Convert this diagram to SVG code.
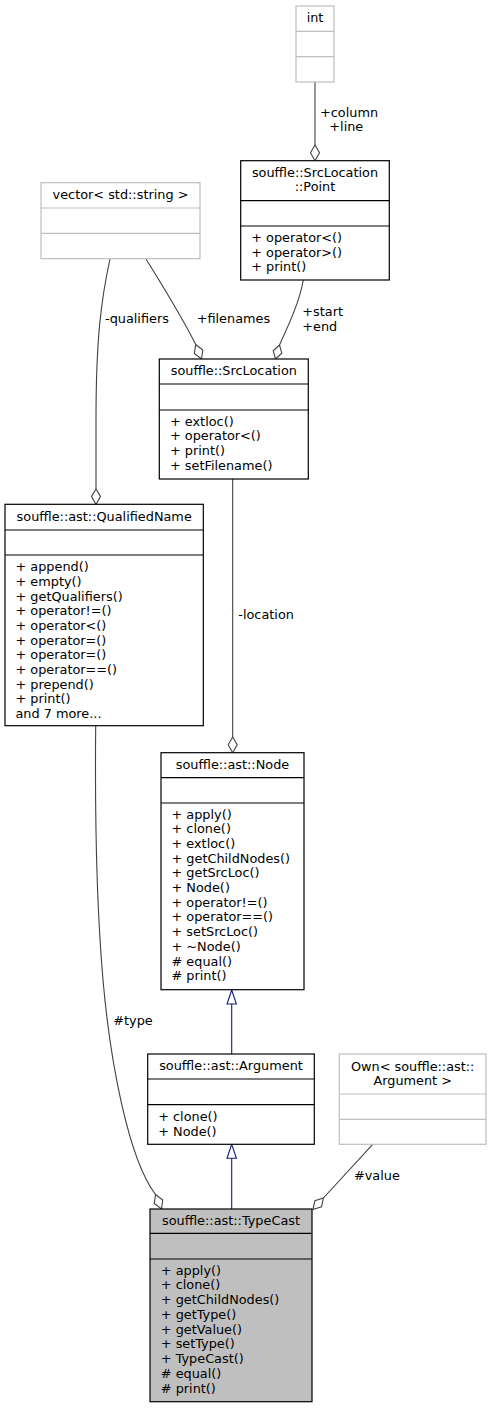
<svg xmlns="http://www.w3.org/2000/svg" width="491" height="1408" viewBox="0 0 491 1408">
<style>
text{font-family:"DejaVu Sans","Liberation Sans",sans-serif;font-size:12.85px;fill:#000}
.c{text-anchor:middle}
.box{fill:#fff;stroke:#000;stroke-width:1.2}
.gbox{fill:#fff;stroke:#bfbfbf;stroke-width:1.2}
.cur{fill:#bfbfbf;stroke:#000;stroke-width:1.2}
.e{fill:none;stroke:#404040;stroke-width:1.1}
.dia{fill:#fff;stroke:#404040;stroke-width:1.1}
.inh{fill:none;stroke:#191970;stroke-width:1.1}
.tri{fill:#fff;stroke:#191970;stroke-width:1.1}
</style>
<rect width="491" height="1408" fill="#fff"/>
<g id="connectors">
  <path class="e" d="M315,82 L315,145"/>
  <polygon class="dia" points="315,145 319.5,152.8 315,160.7 310.5,152.8"/>
  <text x="320" y="117">+column</text>
  <text x="329.3" y="131">+line</text>

  <path class="e" d="M110,259 C101,300 96,340 96,420 L96,489"/>
  <polygon class="dia" points="96,489 100.5,496.6 96,504.3 91.5,496.6"/>
  <text x="105" y="322.8">-qualifiers</text>

  <path class="e" d="M146,259 C162,285 181,315 195.7,344.5"/>
  <polygon class="dia" points="195.7,344.5 202.8,350.1 201.5,359 194.4,353.4"/>
  <text x="196.7" y="322.8">+filenames</text>

  <path class="e" d="M303.3,280 C300,300 290,322 279.5,345"/>
  <polygon class="dia" points="279.5,345 281.8,353.2 275.5,359 273.2,350.8"/>
  <text x="302.3" y="315.5">+start</text>
  <text x="302.3" y="331">+end</text>

  <path class="e" d="M232.7,479 L232.7,737"/>
  <polygon class="dia" points="232.7,737 237.2,744.8 232.7,752.7 228.2,744.8"/>
  <text x="238.3" y="618.8">-location</text>

  <path class="inh" d="M231.7,1054 L231.7,1004"/>
  <polygon class="tri" points="231.7,990 236.4,1004 227,1004"/>

  <path class="inh" d="M231.7,1209 L231.7,1158.3"/>
  <polygon class="tri" points="231.7,1144.3 236.4,1158.3 227,1158.3"/>

  <path class="e" d="M372.7,1144.3 L323.4,1198"/>
  <polygon class="dia" points="323.4,1198 321.5,1206.8 313,1209.5 314.9,1200.7"/>
  <text x="354" y="1179.5">#value</text>

  <path class="e" d="M95.7,726 C95,800 96,900 103,980 C110,1060 128,1158 155.5,1194.5"/>
  <polygon class="dia" points="155.5,1194.5 162.7,1200 161.5,1209 154.3,1203.5"/>
  <text x="113.3" y="1025">#type</text>
</g>

<g id="int">
  <rect class="gbox" x="296" y="6" width="38" height="76"/>
  <line class="gbox" x1="296" y1="31.3" x2="334" y2="31.3"/>
  <line class="gbox" x1="296" y1="56.7" x2="334" y2="56.7"/>
  <text class="c" x="315" y="22">int</text>
</g>

<g id="point">
  <rect class="box" x="240.7" y="160.7" width="148.6" height="119.3"/>
  <line class="box" x1="240.7" y1="200.7" x2="389.3" y2="200.7"/>
  <line class="box" x1="240.7" y1="226" x2="389.3" y2="226"/>
  <text class="c" x="315" y="177">souffle::SrcLocation</text>
  <text class="c" x="315" y="190.5">::Point</text>
  <text x="251.2" y="242">+ operator&lt;()</text>
  <text x="251.2" y="256.5">+ operator&gt;()</text>
  <text x="251.2" y="271">+ print()</text>
</g>

<g id="vector">
  <rect class="gbox" x="41" y="182.7" width="159" height="76"/>
  <line class="gbox" x1="41" y1="208" x2="200" y2="208"/>
  <line class="gbox" x1="41" y1="233.3" x2="200" y2="233.3"/>
  <text class="c" x="120.5" y="199">vector&lt; std::string &gt;</text>
</g>

<g id="srclocation">
  <rect class="box" x="159.3" y="359" width="149" height="120"/>
  <line class="box" x1="159.3" y1="384" x2="308.3" y2="384"/>
  <line class="box" x1="159.3" y1="410" x2="308.3" y2="410"/>
  <text class="c" x="233.8" y="374.5">souffle::SrcLocation</text>
  <text x="170" y="425.5">+ extloc()</text>
  <text x="170" y="440.2">+ operator&lt;()</text>
  <text x="170" y="454.9">+ print()</text>
  <text x="170" y="469.6">+ setFilename()</text>
</g>

<g id="qualifiedname">
  <rect class="box" x="5" y="504.3" width="198.3" height="221.4"/>
  <line class="box" x1="5" y1="530" x2="203.3" y2="530"/>
  <line class="box" x1="5" y1="555" x2="203.3" y2="555"/>
  <text class="c" x="104.2" y="521">souffle::ast::QualifiedName</text>
  <text x="15.5" y="571.2">+ append()</text>
  <text x="15.5" y="585.9">+ empty()</text>
  <text x="15.5" y="600.5">+ getQualifiers()</text>
  <text x="15.5" y="615.2">+ operator!=()</text>
  <text x="15.5" y="629.9">+ operator&lt;()</text>
  <text x="15.5" y="644.6">+ operator=()</text>
  <text x="15.5" y="659.2">+ operator=()</text>
  <text x="15.5" y="673.9">+ operator==()</text>
  <text x="15.5" y="688.6">+ prepend()</text>
  <text x="15.5" y="703.2">+ print()</text>
  <text x="15.5" y="717.9">and 7 more...</text>
</g>

<g id="node">
  <rect class="box" x="161" y="752.7" width="143" height="237"/>
  <line class="box" x1="161" y1="777.7" x2="304" y2="777.7"/>
  <line class="box" x1="161" y1="803" x2="304" y2="803"/>
  <text class="c" x="232.5" y="769">souffle::ast::Node</text>
  <text x="171.5" y="818.5">+ apply()</text>
  <text x="171.5" y="833.2">+ clone()</text>
  <text x="171.5" y="847.9">+ extloc()</text>
  <text x="171.5" y="862.6">+ getChildNodes()</text>
  <text x="171.5" y="877.3">+ getSrcLoc()</text>
  <text x="171.5" y="892">+ Node()</text>
  <text x="171.5" y="906.7">+ operator!=()</text>
  <text x="171.5" y="921.4">+ operator==()</text>
  <text x="171.5" y="936.1">+ setSrcLoc()</text>
  <text x="171.5" y="950.8">+ ~Node()</text>
  <text x="171.5" y="965.5"># equal()</text>
  <text x="171.5" y="980.2"># print()</text>
</g>

<g id="argument">
  <rect class="box" x="147.7" y="1054" width="166.6" height="90.3"/>
  <line class="box" x1="147.7" y1="1079" x2="314.3" y2="1079"/>
  <line class="box" x1="147.7" y1="1104.7" x2="314.3" y2="1104.7"/>
  <text class="c" x="231" y="1070">souffle::ast::Argument</text>
  <text x="158.2" y="1121">+ clone()</text>
  <text x="158.2" y="1135.5">+ Node()</text>
</g>

<g id="own">
  <rect class="gbox" x="339.3" y="1054" width="146.7" height="90.3"/>
  <line class="gbox" x1="339.3" y1="1094" x2="486" y2="1094"/>
  <line class="gbox" x1="339.3" y1="1119.3" x2="486" y2="1119.3"/>
  <text class="c" x="412.7" y="1070.5">Own&lt; souffle::ast::</text>
  <text class="c" x="412.7" y="1085">Argument &gt;</text>
</g>

<g id="typecast">
  <rect class="cur" x="150" y="1209" width="162" height="192.7"/>
  <line class="cur" x1="150" y1="1233.3" x2="312" y2="1233.3"/>
  <line class="cur" x1="150" y1="1259" x2="312" y2="1259"/>
  <text class="c" x="231" y="1225">souffle::ast::TypeCast</text>
  <text x="160.8" y="1274.5">+ apply()</text>
  <text x="160.8" y="1289.2">+ clone()</text>
  <text x="160.8" y="1304">+ getChildNodes()</text>
  <text x="160.8" y="1318.7">+ getType()</text>
  <text x="160.8" y="1333.5">+ getValue()</text>
  <text x="160.8" y="1348.2">+ setType()</text>
  <text x="160.8" y="1363">+ TypeCast()</text>
  <text x="160.8" y="1377.7"># equal()</text>
  <text x="160.8" y="1392.5"># print()</text>
</g>
</svg>
